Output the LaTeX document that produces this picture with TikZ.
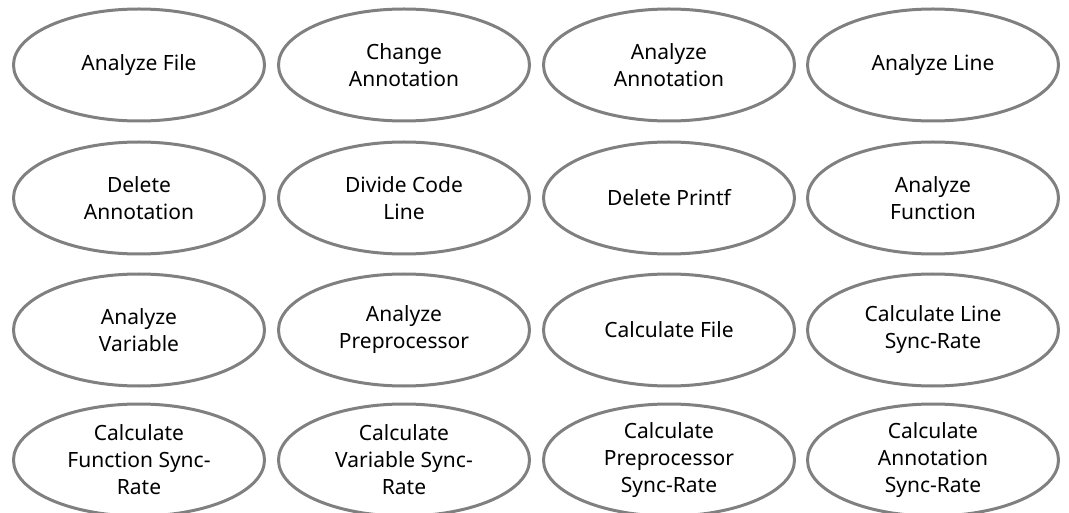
\documentclass[tikz,border=0pt]{standalone}
\usepackage{fontspec}
\setmainfont{Noto Sans}
\usetikzlibrary{shapes.geometric}
\tikzset{
  uc/.style={ellipse, draw=ucgray, line width=3pt, minimum width=251pt, minimum height=112pt,
    inner sep=0pt, align=center, font=\fontsize{21}{27}\selectfont, text=black}
}
\definecolor{ucgray}{RGB}{128,128,128}
\begin{document}
\begin{tikzpicture}[x=1pt,y=-1pt]
\useasboundingbox (0,0) rectangle (1069,513);
\node[uc] (a1) at (139,65) {Analyze File};
\node[uc] (a2) at (404,65) {Change\\Annotation};
\node[uc] (a3) at (669,65) {Analyze\\Annotation};
\node[uc] (a4) at (933,65) {Analyze Line};
\node[uc] (b1) at (139,198) {Delete\\Annotation};
\node[uc] (b2) at (404,198) {Divide Code\\Line};
\node[uc] (b3) at (669,198) {Delete Printf};
\node[uc] (b4) at (933,198) {Analyze\\Function};
\node[uc] (c1) at (139,330) {Analyze\\Variable};
\node[uc] (c2) at (404,330) {Analyze\\Preprocessor};
\node[uc] (c3) at (669,330) {Calculate File};
\node[uc] (c4) at (933,330) {Calculate Line\\Sync-Rate};
\node[uc] (d1) at (139,460) {Calculate\\Function Sync-\\Rate};
\node[uc] (d2) at (404,460) {Calculate\\Variable Sync-\\Rate};
\node[uc] (d3) at (669,460) {Calculate\\Preprocessor\\Sync-Rate};
\node[uc] (d4) at (933,460) {Calculate\\Annotation\\Sync-Rate};
\end{tikzpicture}
\end{document}
